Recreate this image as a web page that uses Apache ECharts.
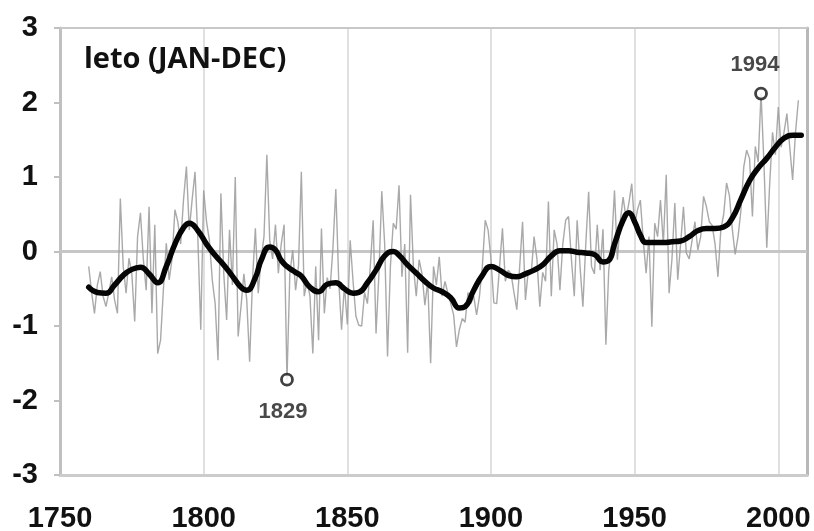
<!DOCTYPE html>
<html>
<head>
<meta charset="utf-8">
<title>leto (JAN-DEC)</title>
<script src="https://cdn.jsdelivr.net/npm/echarts@6/dist/echarts.min.js"></script>
<style>
  html, body { margin: 0; padding: 0; background: #fff; }
  #chart { width: 814px; height: 531px; }
</style>
</head>
<body>
<div id="chart"></div>
<script>
// Annual temperature anomalies (°C), one value per year starting at firstYear
const firstYear = 1760;
const annualValues = [
  -0.20, -0.55, -0.83, -0.45, -0.27, -0.60, -0.74, -0.55, -0.34, -0.65,
  -0.83,  0.71, -0.20, -0.56, -0.09, -0.30, -0.94,  0.20,  0.52, -0.10,
  -0.52,  0.60, -0.83,  0.36, -1.37, -1.19, -0.50,  0.11, -0.38, -0.10,
   0.56,  0.40,  0.10,  0.70,  1.14,  0.29,  0.70,  1.07,  0.15, -1.05,
   0.82,  0.40,  0.15, -0.38, -0.70, -1.46,  0.78, -0.30, -0.92,  0.29,
  -0.45,  1.00, -1.14, -0.74, -0.30, -0.65, -1.48, -0.38,  0.31, -0.56,
  -0.10,  0.20,  1.30,  0.15, -0.10,  0.36, -0.29,  0.10,  0.36, -1.72,
  -0.30,  0.02, -0.52, -0.20,  1.07, -0.60, -0.40, -0.60, -1.37, -0.20,
  -1.19,  0.31, -0.83, -0.35, -0.50,  0.05,  0.84, -0.38, -1.05, -0.45,
  -0.98,  0.15, -0.40, -0.87, -0.99, -1.00, -0.55, -0.70, -0.20,  0.42,
  -1.10, -0.30,  0.81,  0.10, -1.41, -0.20,  0.38,  0.30,  0.89, -0.34,
   0.10, -1.36,  0.76, -0.20, -0.60, -0.11, -0.30, -0.72, -0.40, -1.50,
  -0.20, -0.45, -0.07, -0.60, -0.40, -0.56, -0.70, -0.85, -1.28, -1.05,
  -0.90, -0.95, -0.55, -0.70, -0.60, -0.85, -0.60, -0.20,  0.42,  0.29,
  -0.10, -0.69, -0.70, -0.20,  0.31, -0.40, -0.25, -0.30, -0.55, -0.78,
  -0.20,  0.40, -0.65, -0.25, -0.30,  0.20, -0.10, -0.74, -0.28, -0.40,
   0.67, -0.60,  0.29,  0.10, -0.52,  0.10,  0.42,  0.47, -0.10, -0.60,
   0.42, -0.20, -0.74,  0.10,  0.80, -0.20, -0.30,  0.36, -0.25,  0.30,
  -1.25, -0.25,  0.10,  0.82, -0.11,  0.40,  0.73,  0.45,  0.65,  0.91,
   0.35,  0.56,  0.69,  0.15, -0.29,  0.20, -1.01,  0.38,  0.20,  0.69,
   0.10,  1.03, -0.56, -0.10,  0.65, -0.38,  0.10,  0.60, -0.02, -0.10,
   0.15,  0.40,  0.02,  0.20,  0.74,  0.60,  0.40,  0.35,  0.10, -0.34,
   0.29,  0.50,  0.92,  0.75,  0.30, -0.04,  0.20,  0.55,  1.14,  1.36,
   1.25,  0.47,  1.41,  1.20,  2.12,  1.20,  0.05,  0.90,  1.60,  1.30,
   1.94,  1.40,  1.60,  1.85,  1.40,  0.96,  1.60,  2.03
];

// Smoothed trend: [year, anomaly]
const smoothYears = [
  1760, 1763, 1766, 1769, 1772, 1775, 1778, 1781, 1784, 1787, 1790, 1793, 1795, 1798,
  1801, 1804, 1807, 1810, 1813, 1815, 1818, 1820, 1823, 1825, 1827, 1829, 1832, 1834,
  1837, 1840, 1843, 1846, 1849, 1852, 1854, 1857, 1860, 1863, 1866, 1868, 1871, 1874,
  1877, 1880, 1883, 1886, 1889, 1891, 1894, 1897, 1900, 1903, 1906, 1909, 1912, 1915,
  1918, 1921, 1924, 1927, 1930, 1933, 1936, 1939, 1941, 1943, 1946, 1948, 1950, 1952,
  1954, 1957, 1960, 1963, 1966, 1969, 1972, 1975, 1978, 1981, 1984, 1987, 1990, 1993,
  1996, 1999, 2002, 2005, 2008
];
const smoothValues = [
  -0.48, -0.55, -0.56, -0.45, -0.32, -0.24, -0.21, -0.30, -0.42, -0.20,  0.10,  0.32,  0.38,  0.28,
   0.10, -0.05, -0.18, -0.33, -0.48, -0.52, -0.35, -0.12,  0.06,  0.02, -0.12, -0.20, -0.28, -0.33,
  -0.48, -0.54, -0.44, -0.42, -0.50, -0.56, -0.55, -0.42, -0.25, -0.06,  0.00, -0.05, -0.18, -0.29,
  -0.40, -0.49, -0.54, -0.62, -0.76, -0.74, -0.52, -0.32, -0.20, -0.25, -0.32, -0.34, -0.30, -0.25,
  -0.18, -0.06,  0.01,  0.01, -0.01, -0.02, -0.04, -0.14, -0.12,  0.10,  0.42,  0.52,  0.40,  0.22,
   0.12,  0.12,  0.12,  0.13,  0.14,  0.20,  0.28,  0.31,  0.31,  0.33,  0.45,  0.70,  0.95,  1.12,
   1.25,  1.40,  1.52,  1.56,  1.56
];

// Highlighted extreme years
const extremeYears = [1829, 1994];
const extremeValues = [-1.72, 2.12];

// Axis setup
const xMin = 1750, xMax = 2010, xStep = 50;
const yMin = -3, yMax = 3, yStep = 1;
const titleText = 'leto (JAN-DEC)';

const annualData = annualValues.map((v, i) => [firstYear + i, v]);
const smoothData = smoothYears.map((y, i) => [y, smoothValues[i]]);
const extremeData = extremeYears.map((y, i) => ({
  value: [y, extremeValues[i]],
  label: extremeValues[i] < 0
    ? { position: 'bottom', distance: 14, offset: [-4, 0] }
    : { position: 'top', distance: 11, offset: [-6, 0] }
}));

const axisFont = 'Liberation Sans, Arial, sans-serif';
const frameColor = '#b8b8b8';

const chart = echarts.init(document.getElementById('chart'), null, { renderer: 'canvas' });
chart.setOption({
  animation: false,
  backgroundColor: '#ffffff',
  title: {
    text: titleText,
    left: 84,
    top: 45,
    padding: 0,
    textStyle: {
      fontFamily: 'Open Sans, sans-serif',
      fontSize: 29,
      fontWeight: 'bold',
      color: '#111'
    }
  },
  grid: {
    left: 60, right: 7, top: 28, bottom: 56,
    containLabel: false,
    outerBoundsMode: 'none',
    show: true,
    borderColor: frameColor,
    borderWidth: 2,
    backgroundColor: 'rgba(255,255,255,0)'
  },
  xAxis: [
    {
      type: 'value',
      min: xMin,
      max: xMax,
      interval: xStep,
      axisLine: { show: true, onZero: false, lineStyle: { color: '#cccccc', width: 3 } },
      axisTick: { show: false },
      axisLabel: {
        showMaxLabel: false,
        margin: 29,
        fontFamily: axisFont,
        fontSize: 29,
        fontWeight: 'bold',
        color: '#111',
        formatter: v => (v % xStep === 0 ? String(v) : '')
      },
      splitLine: { show: true, lineStyle: { color: '#e0e0e0', width: 2 } }
    },
    {
      // top edge of the plot frame
      type: 'value',
      position: 'top',
      min: xMin,
      max: xMax,
      interval: xStep,
      axisLine: { show: true, onZero: false, lineStyle: { color: '#c8c8c8', width: 2 } },
      axisTick: { show: false },
      axisLabel: { show: false },
      splitLine: { show: false }
    }
  ],
  yAxis: [
    {
      type: 'value',
      min: yMin,
      max: yMax,
      interval: yStep,
      axisLine: { show: true, onZero: false, lineStyle: { color: '#c0c0c0', width: 3 } },
      axisTick: { show: true, inside: false, length: 6, lineStyle: { color: '#c0c0c0', width: 2 } },
      axisLabel: {
        margin: 22,
        fontFamily: axisFont,
        fontSize: 29,
        fontWeight: 'bold',
        color: '#111'
      },
      splitLine: { show: false }
    },
    {
      // right edge of the plot frame
      type: 'value',
      position: 'right',
      min: yMin,
      max: yMax,
      interval: yStep,
      axisLine: { show: true, onZero: false, lineStyle: { color: frameColor, width: 3 } },
      axisTick: { show: false },
      axisLabel: { show: false },
      splitLine: { show: false }
    }
  ],
  series: [
    {
      name: 'annual',
      type: 'line',
      data: annualData,
      showSymbol: false,
      symbol: 'none',
      lineStyle: { color: '#9a9a9a', width: 1.4, opacity: 0.85 },
      z: 2,
      markLine: {
        silent: true,
        symbol: 'none',
        label: { show: false },
        lineStyle: { color: '#c6c6c6', width: 3, type: 'solid' },
        data: [{ yAxis: 0 }],
        z: 1
      }
    },
    {
      name: 'trend',
      type: 'line',
      data: smoothData,
      smooth: 0.5,
      showSymbol: false,
      symbol: 'none',
      lineStyle: { color: '#050505', width: 5.5, cap: 'round', join: 'round' },
      z: 3
    },
    {
      name: 'extremes',
      type: 'scatter',
      data: extremeData,
      symbol: 'circle',
      symbolSize: 11,
      itemStyle: { color: '#ffffff', borderColor: '#111', borderWidth: 2.8 },
      label: {
        show: true,
        fontFamily: axisFont,
        fontSize: 22,
        fontWeight: 'bold',
        color: '#1a1a1a',
        formatter: p => String(p.value[0])
      },
      z: 4
    }
  ]
});
</script>
</body>
</html>
